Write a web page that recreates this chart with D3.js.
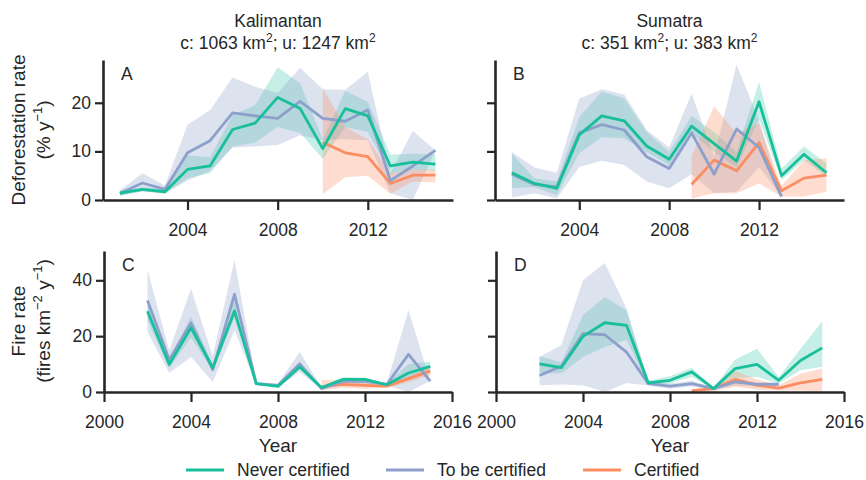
<!DOCTYPE html>
<html lang="en">
<head>
<meta charset="UTF-8">
<title>Deforestation and fire rates</title>
<script src="https://cdn.jsdelivr.net/npm/d3@7"></script>
<style>
    body { margin: 0; background: #fff; }
    text { font-family: "Liberation Sans", Arial, sans-serif; fill: #262626; }
</style>
</head>
<body>
<script>
    // years on the x axis
    var yearsTop = [2001, 2002, 2003, 2004, 2005, 2006, 2007, 2008, 2009, 2010, 2011, 2012, 2013, 2014, 2015];
    var yearsBottom = [2002, 2003, 2004, 2005, 2006, 2007, 2008, 2009, 2010, 2011, 2012, 2013, 2014, 2015];

    // every entry is [mean, lower, upper], null = no data that year
    // A: Kalimantan deforestation
    var kalDefNever = [[1.4,0.9,1.9],[2.2,1.8,2.6],[1.7,1.3,2.2],[6.3,4.5,9.2],[7.0,5.5,8.8],[14.5,11.0,17.5],[15.8,11.8,19.5],
        [21.1,15.0,27.3],[18.8,13.8,24.0],[10.6,8.5,12.5],[18.8,15.0,22.5],[17.3,14.0,20.2],[7.0,5.5,9.3],[7.8,6.3,9.5],[7.4,6.0,9.4]];
    var kalDefToBe = [[1.4,0.9,2.0],[3.5,1.8,5.5],[2.2,1.4,3.0],[9.7,4.0,15.5],[12.2,6.0,18.5],[17.9,10.8,25.2],[17.3,11.0,23.3],
        [16.8,11.3,22.0],[20.3,13.3,27.2],[16.8,12.3,22.8],[16.2,12.5,22.7],[18.5,12.3,26.4],[4.0,1.4,5.5],[7.0,0.0,14.2],[10.2,10.2,10.2]];
    var kalDefCert = [null,null,null,null,null,null,null,null,null,
        [11.9,1.2,23.0],[9.7,4.7,15.0],[8.9,5.0,12.5],[3.4,1.3,5.5],[5.1,3.8,6.3],[5.1,3.6,6.2]];

    // B: Sumatra deforestation
    var sumDefNever = [[5.6,2.4,9.6],[3.4,2.7,4.5],[2.4,1.0,3.8],[13.4,9.6,17.1],[17.3,12.9,22.3],[16.3,12.7,20.9],[11.1,9.8,14.0],
        [8.4,7.2,9.9],[15.2,13.7,17.3],[11.6,9.9,14.0],[8.0,6.7,9.9],[20.2,16.6,24.3],[5.0,4.1,6.5],[9.4,8.2,11.0],[5.6,4.8,7.5]];
    var sumDefToBe = [[5.3,0.5,9.9],[3.2,1.4,6.7],[2.7,0.3,5.6],[13.8,6.8,20.9],[15.5,8.1,22.8],[14.4,7.2,21.7],[8.9,3.8,14.4],
        [6.5,2.4,10.8],[13.8,5.3,21.9],[5.3,1.4,8.9],[14.6,1.7,27.9],[10.8,6.8,16.4],[0.7,0.7,0.7],null,null];
    var sumDefCert = [null,null,null,null,null,null,null,null,
        [3.2,0.3,9.0],[8.2,1.4,19.3],[6.0,1.4,13.7],[11.8,3.4,15.8],[1.9,0.7,2.9],[4.5,0.7,8.2],[5.1,1.7,8.6]];

    // C: Kalimantan fires
    var kalFireNever = [[28.9,25.5,31.5],[9.9,8.5,11.5],[23.0,19.5,27.0],[8.7,7.5,10.0],[29.0,26.5,33.0],[3.0,2.7,3.3],[2.0,1.7,2.4],
        [9.0,8.3,10.0],[1.6,1.3,1.9],[4.5,3.5,5.3],[4.5,3.6,5.2],[2.6,2.2,3.0],[6.8,4.5,10.0],[9.2,7.2,10.8]];
    var kalFireToBe = [[32.8,21.5,43.8],[11.6,6.8,14.9],[24.7,12.5,37.0],[8.0,3.6,12.8],[35.0,22.1,47.4],[3.0,2.6,3.5],[2.4,1.8,3.0],
        [10.1,7.2,14.3],[1.2,0.8,1.6],[3.8,2.8,4.8],[3.8,2.8,4.8],[2.7,2.3,3.2],[13.5,0.0,29.3],[3.9,3.9,3.9]];
    var kalFireCert = [null,null,null,null,null,null,null,null,
        [1.8,0.6,4.4],[2.7,1.5,4.0],[2.4,1.2,3.8],[2.1,1.5,3.0],[4.8,3.5,5.5],[7.5,6.0,9.0]];

    // D: Sumatra fires
    var sumFireNever = [[10.1,6.8,12.8],[8.7,6.6,10.7],[19.9,12.5,27.5],[24.8,16.1,34.0],[23.9,18.7,29.3],[3.3,2.5,4.0],[4.2,3.0,5.6],
        [7.2,5.5,8.7],[1.2,0.9,1.5],[8.4,5.0,11.6],[9.9,5.4,15.5],[4.2,3.0,5.4],[11.3,7.8,15.5],[15.8,9.0,25.3]];
    var sumFireToBe = [[5.9,2.4,12.5],[9.2,2.7,16.7],[20.9,2.4,40.0],[20.5,0.0,46.2],[14.3,3.2,29.9],[3.0,2.3,3.8],[2.1,1.2,3.0],
        [3.0,2.0,4.0],[1.2,0.9,1.5],[3.6,2.2,5.0],[2.7,2.0,3.5],[2.7,2.0,3.5],null,null];
    var sumFireCert = [null,null,null,null,null,null,null,
        [0.5,0.0,1.0],[1.2,0.3,1.5],[4.5,2.0,7.5],[2.4,0.8,4.5],[1.4,0.5,2.5],[3.3,0.5,6.5],[4.5,0.3,8.4]];

    var seriesNames = ["Never certified", "To be certified", "Certified"];
    var seriesColors = ["#17bf9b", "#8da0cb", "#fc8d62"];
    var topYearTicks = [2004, 2008, 2012];
    var bottomYearTicks = [2000, 2004, 2008, 2012, 2016];
    var defTicks = [0, 10, 20];
    var fireTicks = [0, 20, 40];

    var width = 866, height = 480;
    var svg = d3.select("body").append("svg")
        .attr("width", width)
        .attr("height", height);

    var panels = [
        {letter: "A", years: yearsTop, series: [kalDefNever, kalDefToBe, kalDefCert], left: 103, right: 453, top: 60, bottom: 200,
            xDomain: [2000.25, 2015.78], yDomain: [0, 28.8], xTicks: topYearTicks, yTicks: defTicks, yLabels: true},
        {letter: "B", years: yearsTop, series: [sumDefNever, sumDefToBe, sumDefCert], left: 495, right: 844, top: 60, bottom: 200,
            xDomain: [2000.25, 2015.78], yDomain: [0, 28.8], xTicks: topYearTicks, yTicks: defTicks, yLabels: false},
        {letter: "C", years: yearsBottom, series: [kalFireNever, kalFireToBe, kalFireCert], left: 104, right: 452, top: 251, bottom: 392,
            xDomain: [2000, 2016], yDomain: [0, 50.5], xTicks: bottomYearTicks, yTicks: fireTicks, yLabels: true},
        {letter: "D", years: yearsBottom, series: [sumFireNever, sumFireToBe, sumFireCert], left: 496, right: 844, top: 251, bottom: 392,
            xDomain: [2000, 2016], yDomain: [0, 50.5], xTicks: bottomYearTicks, yTicks: fireTicks, yLabels: false}
    ];

    panels.forEach(function (p) {
        var x = d3.scaleLinear().domain(p.xDomain).range([p.left, p.right]);
        var y = d3.scaleLinear().domain(p.yDomain).range([p.bottom, p.top]);
        var g = svg.append("g");

        var rows = p.series.map(function (s) {
            return p.years.map(function (yr, j) { return {year: yr, v: s[j]}; })
                .filter(function (d) { return d.v; });
        });

        // confidence bands
        var area = d3.area()
            .x(function (d) { return x(d.year); })
            .y0(function (d) { return y(d.v[1]); })
            .y1(function (d) { return y(d.v[2]); });
        rows.forEach(function (r, i) {
            g.append("path").datum(r)
                .attr("d", area)
                .attr("fill", seriesColors[i])
                .attr("fill-opacity", i == 0 ? 0.25 : 0.3);
        });

        // mean lines, green on top
        var line = d3.line()
            .x(function (d) { return x(d.year); })
            .y(function (d) { return y(d.v[0]); });
        [2, 1, 0].forEach(function (i) {
            g.append("path").datum(rows[i])
                .attr("d", line)
                .attr("fill", "none")
                .attr("stroke", seriesColors[i])
                .attr("stroke-width", 2.8)
                .attr("stroke-linejoin", "round");
        });

        // axes
        var xAxis = d3.axisBottom(x).tickValues(p.xTicks).tickFormat(d3.format("d"))
            .tickSize(10).tickSizeOuter(0).tickPadding(14);
        var yAxis = d3.axisLeft(y).tickValues(p.yTicks).tickSize(8).tickSizeOuter(0).tickPadding(4);
        if (!p.yLabels) yAxis.tickFormat("");

        var gx = g.append("g").attr("transform", "translate(0," + p.bottom + ")").call(xAxis);
        var gy = g.append("g").attr("transform", "translate(" + p.left + ",0)").call(yAxis);
        [gx, gy].forEach(function (a) {
            a.attr("color", "#262626");
            a.select(".domain").attr("stroke-width", 2.6);
            a.selectAll(".tick line").attr("stroke-width", 2.2);
            a.selectAll(".tick text").style("font-size", "17.5px");
        });

        g.append("text")
            .attr("x", p.left + 18)
            .attr("y", p.top + 20)
            .style("font-size", "17.5px")
            .text(p.letter);
    });

    // column titles
    function addTitle(cx, name, c, u) {
        svg.append("text").attr("x", cx).attr("y", 27).attr("text-anchor", "middle")
            .style("font-size", "17.5px").text(name);
        var t = svg.append("text").attr("x", cx).attr("y", 49).attr("text-anchor", "middle")
            .style("font-size", "17.5px");
        t.append("tspan").text("c: " + c + " km");
        t.append("tspan").attr("dy", -7).style("font-size", "12px").text("2");
        t.append("tspan").attr("dy", 7).text("; u: " + u + " km");
        t.append("tspan").attr("dy", -7).style("font-size", "12px").text("2");
    }
    addTitle(278, "Kalimantan", 1063, 1247);
    addTitle(669.5, "Sumatra", 351, 383);

    // y axis labels: parts are [text, superscript?]
    function addYLabel(cy, first, second) {
        svg.append("text").attr("transform", "translate(24.5," + cy + ") rotate(-90)")
            .attr("text-anchor", "middle").style("font-size", "19px").text(first);
        var t = svg.append("text").attr("transform", "translate(49.5," + cy + ") rotate(-90)")
            .attr("text-anchor", "middle").style("font-size", "19px");
        var up = false;
        second.forEach(function (part) {
            var s = t.append("tspan").text(part[0]);
            if (part[1]) { s.attr("dy", -8).style("font-size", "13px"); up = true; }
            else if (up) { s.attr("dy", 8); up = false; }
        });
    }
    addYLabel(130, "Deforestation rate", [["(% y", false], ["\u22121", true], [")", false]]);
    addYLabel(321, "Fire rate", [["(fires km", false], ["\u22122", true], [" y", false], ["\u22121", true], [")", false]]);

    // x axis labels
    [278, 670].forEach(function (cx) {
        svg.append("text").attr("x", cx).attr("y", 452).attr("text-anchor", "middle")
            .style("font-size", "19px").text("Year");
    });

    // legend
    var legendX = [186, 386, 583];
    seriesNames.forEach(function (name, i) {
        svg.append("line")
            .attr("x1", legendX[i]).attr("x2", legendX[i] + 38)
            .attr("y1", 470).attr("y2", 470)
            .attr("stroke", seriesColors[i]).attr("stroke-width", 2.8);
        svg.append("text").attr("x", legendX[i] + 51).attr("y", 476)
            .style("font-size", "17.5px").text(name);
    });
</script>
</body>
</html>
